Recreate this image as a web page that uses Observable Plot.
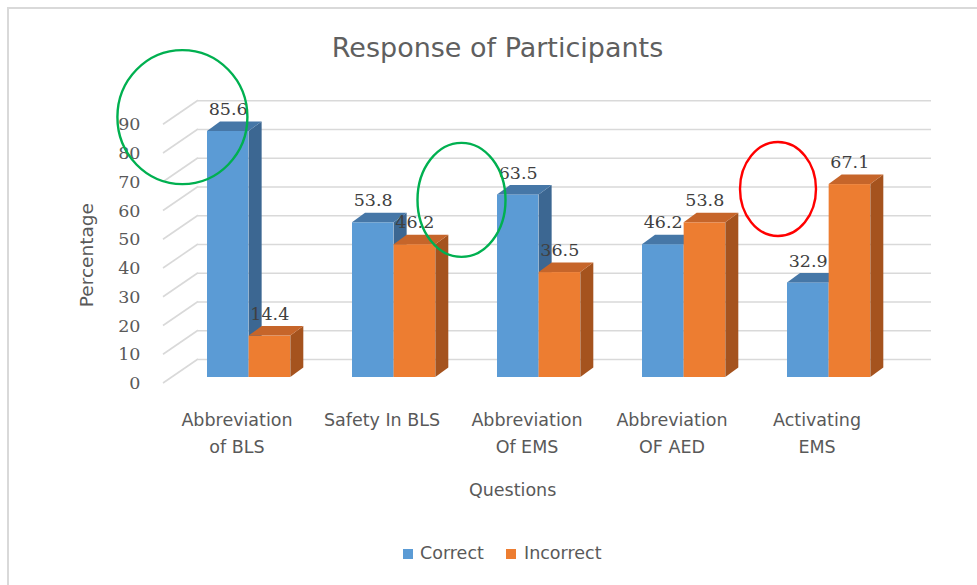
<!DOCTYPE html>
<html>
<head>
<meta charset="utf-8">
<script src="https://cdn.jsdelivr.net/npm/d3@7"></script>
<script src="https://cdn.jsdelivr.net/npm/@observablehq/plot@0.6"></script>
<style>
  body { margin: 0; background: #fff; width: 977px; height: 585px; overflow: hidden; position: relative; font-family: "DejaVu Sans", sans-serif; }
  #border { position: absolute; left: 7px; top: 7px; width: 1000px; height: 620px; border-left: 2px solid #d9d9d9; border-top: 2px solid #d9d9d9; }
  #title { position: absolute; left: 0; top: 34px; width: 995px; text-align: center; font-size: 27px; line-height: 27px; color: #5f5f5f; white-space: nowrap; }
  #chart { position: absolute; left: 0; top: 0; }
  .lg { position: absolute; font-size: 17.5px; line-height: 17.5px; color: #595959; white-space: nowrap; }
  .sw { position: absolute; width: 10px; height: 10px; }
</style>
</head>
<body>
<div id="border"></div>
<div id="chart"></div>
<div id="title">Response of Participants</div>
<div id="legend"></div>
<script>
// ---- data ----
const categories = ["Abbreviation\nof BLS", "Safety In BLS", "Abbreviation\nOf EMS", "Abbreviation\nOF AED", "Activating\nEMS"];
const correct   = [85.6, 53.8, 63.5, 46.2, 32.9];
const incorrect = [14.4, 46.2, 36.5, 53.8, 67.1];
const seriesNames = ["Correct", "Incorrect"];
const yTicks = [0, 10, 20, 30, 40, 50, 60, 70, 80, 90];
const annotationCats = ["Abbreviation\nof BLS", "Abbreviation\nOf EMS", "Activating\nEMS"];
const annotationVals = [90.4, 61.6, 65.4];

// ---- styles / layout ----
const W = 977, H = 520;
const ML = 163, MR = 63.8, MT = 118.25, MB = 143;
const padIn = 0.429, padOut = 0.2855;
const step = (W - ML - MR) / (categories.length - padIn + 2 * padOut);
const bw = step * (1 - padIn);
const half = bw / 2;
const DX = 13, DY = 9.5;          // bar depth
const WX = 35, WY = 18;           // wall depth
const colors = {
  Correct:   {front: "#5B9BD5", side: "#3C6792", top: "#4677A7"},
  Incorrect: {front: "#ED7D31", side: "#A5531E", top: "#C6652A"}
};
const annStyle = [
  {ox: -24.6, rx: 65, ry: 67, stroke: "#00B050"},
  {ox: -35.5, rx: 44, ry: 57, stroke: "#00B050"},
  {ox: -9,    rx: 38, ry: 47, stroke: "#FF0000"}
];

const rows = categories.flatMap((c, i) => [
  {cat: c, series: "Correct", value: correct[i]},
  {cat: c, series: "Incorrect", value: incorrect[i]}
]);

const svgNS = "http://www.w3.org/2000/svg";
function poly(g, pts, fill) {
  const p = document.createElementNS(svgNS, "polygon");
  p.setAttribute("points", pts.map(d => d.join(",")).join(" "));
  p.setAttribute("fill", fill);
  g.appendChild(p);
}

// slanted wall lines at left
const wallSlants = (index, scales) => {
  const {y} = scales;
  const g = document.createElementNS(svgNS, "g");
  for (const v of yTicks) {
    const l = document.createElementNS(svgNS, "line");
    l.setAttribute("x1", ML); l.setAttribute("y1", y(v) + 6);
    l.setAttribute("x2", ML + WX); l.setAttribute("y2", y(v) - WY);
    l.setAttribute("stroke", "#d9d9d9"); l.setAttribute("stroke-width", 1.6);
    g.appendChild(l);
  }
  return g;
};

// 3D side & top faces for one series
const faces = (name) => (index, scales) => {
  const {x, y} = scales;
  const g = document.createElementNS(svgNS, "g");
  const vals = name === "Correct" ? correct : incorrect;
  categories.forEach((c, i) => {
    const xl = x(c) + (name === "Correct" ? 0 : half);
    const xr = xl + half;
    const yt = y(vals[i]), yb = y(0);
    poly(g, [[xr, yb], [xr, yt], [xr + DX, yt - DY], [xr + DX, yb - DY]], colors[name].side);
    poly(g, [[xl, yt], [xr, yt], [xr + DX, yt - DY], [xl + DX, yt - DY]], colors[name].top);
  });
  return g;
};

// hand-drawn annotation ellipses
const annotations = (index, scales) => {
  const {x, y} = scales;
  const g = document.createElementNS(svgNS, "g");
  annotationCats.forEach((c, i) => {
    const s = annStyle[i];
    const e = document.createElementNS(svgNS, "ellipse");
    e.setAttribute("cx", x(c) + s.ox);
    e.setAttribute("cy", y(annotationVals[i]));
    e.setAttribute("rx", s.rx); e.setAttribute("ry", s.ry);
    e.setAttribute("fill", "none"); e.setAttribute("stroke", s.stroke);
    e.setAttribute("stroke-width", 2.4);
    g.appendChild(e);
  });
  return g;
};

const serif = "DejaVu Serif, Liberation Serif, serif";

const chart = Plot.plot({
  width: W, height: H,
  marginLeft: ML, marginRight: MR, marginTop: MT, marginBottom: MB,
  style: {background: "transparent", overflow: "visible", fontFamily: "DejaVu Sans, sans-serif", fontSize: "17.5px", color: "#595959"},
  x: {type: "band", domain: categories, paddingInner: padIn, paddingOuter: padOut, axis: null},
  y: {domain: [0, 90], axis: null},
  marks: [
    Plot.ruleY(yTicks, {y: d => d, dx: WX, dy: -WY, insetRight: WX - WY + 0.2, stroke: "#d9d9d9", strokeWidth: 1.6}),
    wallSlants,
    Plot.axisY({ticks: yTicks, tickSize: 0, tickPadding: 23, dy: 6, fontFamily: serif, fontSize: 17.5, label: null, tickFormat: d => String(d)}),
    Plot.axisX({tickSize: 0, tickPadding: 29, dx: -12, lineHeight: 1.54, label: null}),
    Plot.barY(rows.filter(d => d.series === "Correct"), {x: "cat", y: "value", fill: colors.Correct.front, insetRight: half}),
    faces("Correct"),
    Plot.barY(rows.filter(d => d.series === "Incorrect"), {x: "cat", y: "value", fill: colors.Incorrect.front, insetLeft: half}),
    faces("Incorrect"),
    Plot.text(rows.filter(d => d.series === "Correct"), {x: "cat", y: "value", text: d => d.value.toFixed(1), dx: -half / 2, dy: -22, fill: "#404040", fontFamily: serif, fontSize: 17.5}),
    Plot.text(rows.filter(d => d.series === "Incorrect"), {x: "cat", y: "value", text: d => d.value.toFixed(1), dx: half / 2, dy: -22, fill: "#404040", fontFamily: serif, fontSize: 17.5}),
    Plot.text(["Percentage"], {frameAnchor: "left", textAnchor: "middle", rotate: -90, dx: -76, dy: 7, fontSize: 18.5, fill: "#595959"}),
    Plot.text(["Questions"], {frameAnchor: "bottom", dy: 118, dx: -26, fontSize: 17.5, fill: "#595959"}),
    annotations
  ]
});
document.getElementById("chart").appendChild(chart);

// legend
const legend = document.getElementById("legend");
const lgPos = [{sw: 403, tx: 420}, {sw: 506, tx: 524}];
seriesNames.forEach((n, i) => {
  const s = document.createElement("div");
  s.className = "sw"; s.style.left = lgPos[i].sw + "px"; s.style.top = "549px";
  s.style.background = colors[n].front;
  legend.appendChild(s);
  const t = document.createElement("div");
  t.className = "lg"; t.style.left = lgPos[i].tx + "px"; t.style.top = "545px";
  t.textContent = n;
  legend.appendChild(t);
});
</script>
</body>
</html>
